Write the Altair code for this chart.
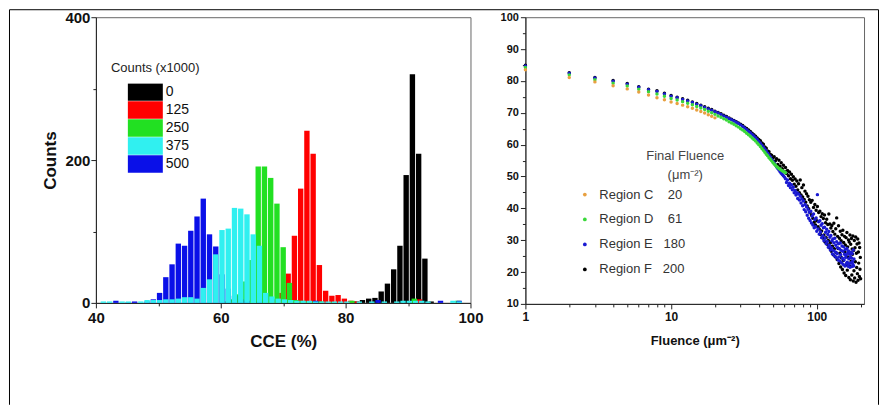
import altair as alt
import pandas as pd

# ---------------- Left panel: CCE histograms ----------------
dose_labels = ["0", "125", "250", "375", "500"]
dose_colors = ["#000000", "#ff0000", "#22e022", "#30f0f0", "#0a10e8"]

black_cce = [81.7, 82.7, 83.7, 84.7, 85.7, 86.7, 87.7, 88.7, 89.7, 90.7, 91.7, 92.7, 93.7]
black_counts = [2, 4, 6, 7, 16, 27, 47, 80, 179, 320, 209, 62, 2]

red_cce = [67.8, 68.8, 69.8, 70.8, 71.8, 72.8, 73.8, 74.8, 75.8, 76.8, 77.8, 78.8,
           79.8, 80.8, 81.8, 91.8]
red_counts = [2, 5, 14, 41, 94, 160, 241, 209, 53, 17, 10, 11, 6, 3, 2, 5]

green_cce = [61.0, 62.0, 63.0, 64.0, 65.0, 66.0, 67.0, 68.0, 69.0, 70.0, 71.0, 72.0,
             73.0, 74.0, 75.0, 76.0, 78.0, 81.0, 91.0, 98.0]
green_counts = [2, 5, 12, 30, 60, 191, 191, 175, 139, 78, 28, 4, 3, 2, 2, 2, 1, 3, 6, 3]

blue_cce = [43.2, 45.2, 46.2, 48.2, 49.2, 50.2, 51.2, 52.2, 53.2, 54.2, 55.2, 56.2,
            57.2, 58.2, 59.2, 60.2, 61.2, 62.2, 63.2, 64.2, 66.2, 75.2, 85.2, 95.2, 98.2]
blue_counts = [3, 1, 2, 2, 5, 14, 36, 54, 83, 80, 101, 121, 146, 96, 79, 40, 20, 10,
               5, 3, 2, 3, 4, 3, 3]

cyan_cce = [41.2, 42.2, 44.2, 45.2, 47.2, 48.2, 49.2, 50.2, 51.2, 52.2, 53.2, 54.2,
            55.2, 56.2, 57.2, 58.2, 59.2, 60.2, 61.2, 62.2, 63.2, 64.2, 65.2, 66.2,
            67.2, 68.2, 69.2, 70.2, 71.2, 72.2, 73.2, 74.2, 75.2, 76.2, 77.2, 78.2,
            79.2, 80.2, 82.2, 84.2, 86.2, 88.2, 89.2, 90.2, 91.2, 92.2, 93.2, 97.2, 98.2]
cyan_counts = [2, 2, 2, 2, 2, 4, 4, 4, 5, 5, 6, 8, 8, 6, 21, 33, 68, 102, 104, 133,
               132, 124, 96, 80, 14, 9, 6, 5, 4, 3, 3, 3, 2, 2, 2, 2, 2, 2, 2, 2, 2,
               2, 3, 3, 3, 3, 2, 3, 2]

draw_order = [
    ("0", black_cce, black_counts),
    ("125", red_cce, red_counts),
    ("250", green_cce, green_counts),
    ("500", blue_cce, blue_counts),
    ("375", cyan_cce, cyan_counts),
]
hist_rows = []
for dose, cces, counts in draw_order:
    for c, n in zip(cces, counts):
        hist_rows.append({"dose": dose, "cce": c, "count": n})
hist_df = pd.DataFrame(hist_rows)

# ---------------- Right panel: CCE vs fluence ----------------
region_names = ["Region C", "Region D", "Region E", "Region F"]
final_fluence = [20, 61, 180, 200]
region_colors = ["#e8a040", "#3ad83a", "#1a1ad2", "#000000"]

cce_C = [83.5, 81.1, 79.7, 78.5, 77.5, 76.5, 75.6, 74.7, 74.1, 73.4,
         72.9, 72.4, 71.9, 71.4, 70.9, 70.4, 69.9, 69.4, 68.9, 68.4]

cce_D = [84.2, 81.9, 80.4, 79.3, 78.4, 77.4, 76.6, 75.9, 75.2, 74.5,
         74.0, 73.5, 73.0, 72.5, 72.0, 71.5, 71.0, 70.5, 70.0, 69.5,
         69.0, 68.6, 68.1, 67.7, 67.2, 66.8, 66.4, 65.9, 65.5, 65.0,
         64.6, 64.1, 63.6, 63.1, 62.6, 62.1, 61.6, 61.1, 60.5, 60.0,
         59.4, 58.8, 58.2, 57.6, 57.0, 56.5, 55.9, 55.4, 54.9, 54.4,
         53.9, 53.5, 53.1, 52.8, 52.5, 52.3, 52.0, 51.8, 51.6, 51.4, 51.2]

cce_E = [84.7, 82.4, 80.9, 79.9, 79.0, 78.0, 77.2, 76.7, 75.9, 75.2,
         74.7, 74.2, 73.7, 73.2, 72.7, 72.2, 71.7, 71.2, 70.8, 70.3,
         69.9, 69.5, 69.0, 68.6, 68.2, 67.8, 67.4, 67.0, 66.6, 66.2,
         65.7, 65.2, 64.7, 64.2, 63.7, 63.2, 62.7, 62.2, 61.6, 61.0,
         60.4, 59.8, 59.2, 58.6, 58.0, 57.3, 56.7, 56.1, 55.4, 54.8,
         54.2, 53.6, 53.0, 52.5, 52.0, 51.5, 51.0, 50.6, 50.2, 49.8,
         49.3, 48.1, 48.9, 47.2, 47.9, 46.5, 47.4, 45.8, 46.6, 44.9,
         45.6, 44.2, 44.9, 43.1, 44.5, 42.6, 43.8, 41.7, 42.9, 40.8,
         42.3, 39.6, 41.2, 38.9, 40.5, 37.8, 39.7, 36.9, 38.8, 36.2,
         39.1, 35.4, 37.6, 34.8, 38.2, 33.9, 36.5, 34.2, 37.0, 32.8,
         44.3, 33.5, 35.8, 31.9, 36.1, 32.6, 34.7, 30.8, 35.2, 31.4,
         33.9, 29.8, 34.1, 30.6, 32.5, 28.9, 33.4, 29.6, 31.8, 27.8,
         32.7, 28.4, 30.9, 26.9, 31.5, 27.6, 29.8, 25.7, 30.4, 26.8,
         29.2, 25.1, 30.6, 26.3, 28.4, 24.6, 29.5, 25.8, 27.6, 23.8,
         28.9, 24.7, 27.3, 23.5, 29.1, 25.4, 26.8, 22.9, 28.2, 24.3,
         26.5, 22.4, 27.9, 23.8, 25.6, 21.9, 27.1, 24.6, 25.2, 22.7,
         27.4, 23.1, 25.9, 21.8, 26.6, 24.2, 22.6, 25.7, 21.5, 24.8,
         26.2, 22.9, 24.4, 21.7, 25.8, 23.3, 22.4, 26.9, 21.9, 24.1]

cce_F = [84.9, 82.6, 81.1, 80.1, 79.2, 78.2, 77.4, 76.9, 76.1, 75.4,
         74.9, 74.4, 73.9, 73.4, 72.9, 72.4, 71.9, 71.4, 71.0, 70.5,
         70.1, 69.7, 69.2, 68.8, 68.4, 68.0, 67.6, 67.2, 66.8, 66.4,
         66.0, 65.5, 65.1, 64.6, 64.1, 63.6, 63.1, 62.6, 62.1, 61.6,
         61.2, 60.5, 60.1, 59.3, 58.9, 58.0, 57.8, 56.9, 56.7, 55.8,
         56.2, 54.9, 55.6, 53.8, 55.1, 53.2, 54.3, 52.4, 53.5, 51.6,
         52.8, 50.9, 51.9, 50.2, 51.4, 49.3, 50.7, 48.8, 49.9, 47.6,
         49.2, 46.9, 48.6, 45.8, 47.7, 44.9, 48.9, 44.2, 46.5, 43.6,
         47.3, 42.8, 45.4, 41.9, 44.6, 40.7, 43.8, 39.9, 42.7, 38.6,
         41.9, 37.8, 42.5, 36.9, 40.3, 35.6, 41.2, 34.8, 39.4, 36.1,
         40.6, 34.2, 38.7, 33.5, 39.1, 31.8, 37.4, 32.9, 38.3, 30.7,
         36.8, 31.6, 37.9, 29.4, 35.5, 30.8, 36.6, 28.7, 34.9, 29.9,
         38.2, 27.6, 35.1, 29.2, 33.8, 26.5, 34.6, 28.1, 32.7, 25.4,
         35.3, 27.3, 31.9, 24.8, 33.6, 26.1, 37.0, 23.9, 31.2, 27.4,
         34.5, 22.7, 30.6, 25.9, 32.8, 21.6, 29.8, 24.5, 31.7, 20.8,
         33.1, 23.6, 29.3, 19.7, 31.2, 26.4, 28.5, 18.9, 30.8, 22.3,
         32.4, 20.6, 27.9, 24.7, 30.1, 18.3, 29.4, 21.9, 31.6, 17.6,
         28.7, 23.4, 30.5, 19.1, 27.2, 25.6, 31.3, 17.2, 26.8, 20.4,
         29.9, 18.1, 27.6, 23.2, 31.0, 16.8, 25.9, 21.4, 28.8, 19.5,
         30.4, 17.4, 26.3, 22.8, 29.1, 18.6, 27.7, 20.9, 24.6, 17.9]


def legend_label(name, ff):
    s = str(ff)
    gap = "\u00a0\u2007" if len(s) == 3 else "\u2007\u2007"
    return name + gap + s


region_labels = [legend_label(n, f) for n, f in zip(region_names, final_fluence)]

series = [(region_labels[3], cce_F), (region_labels[2], cce_E),
          (region_labels[1], cce_D), (region_labels[0], cce_C)]
sc_rows = []
for lab, vals in series:
    for i, v in enumerate(vals):
        sc_rows.append({"region": lab, "fluence": i + 1, "cce": v})
sc_df = pd.DataFrame(sc_rows)

FONT = "Liberation Sans"

# ---------------- Left chart ----------------
bars = alt.Chart(hist_df).transform_calculate(
    lo="datum.cce - 0.43", hi="datum.cce + 0.43", base="0"
).mark_bar().encode(
    x=alt.X("lo:Q", title="CCE (%)",
            scale=alt.Scale(domain=[40, 100], nice=False, zero=False),
            axis=alt.Axis(values=[40, 50, 60, 70, 80, 90, 100],
                          labelExpr="datum.value % 20 == 0 ? datum.label : ''",
                          tickSize={"condition": {"test": "datum.value % 20 == 0", "value": 5}, "value": 3},
                          labelFontSize=15, labelFontWeight="bold", labelPadding=3,
                          titleFontSize=17, titleFontWeight="bold", titlePadding=8,
                          labelFlush=False, grid=False)),
    x2="hi:Q",
    y=alt.Y("count:Q", title="Counts", stack=None,
            scale=alt.Scale(domain=[0, 400], nice=False),
            axis=alt.Axis(values=[0, 100, 200, 300, 400],
                          labelExpr="datum.value % 200 == 0 ? datum.label : ''",
                          tickSize={"condition": {"test": "datum.value % 200 == 0", "value": 5}, "value": 3},
                          labelFontSize=15, labelFontWeight="bold", labelPadding=1,
                          titleFontSize=17, titleFontWeight="bold", titlePadding=5,
                          grid=False)),
    y2="base:Q",
    color=alt.Color("dose:N",
                    scale=alt.Scale(domain=dose_labels, range=dose_colors),
                    legend=alt.Legend(title="Counts (x1000)", orient="none",
                                      legendX=15, legendY=45, padding=0,
                                      symbolType="M-1,-0.5H1V0.5H-1Z", symbolSize=1225,
                                      clipHeight=18, rowPadding=0, symbolStrokeWidth=0,
                                      symbolOffset=17, labelOffset=3,
                                      labelFontSize=14, titleFontSize=13,
                                      titleFontWeight="normal", titlePadding=8,
                                      labelColor="#111", titleColor="#222")),
).properties(width=375, height=286)

# outer picture frame (top, left and right edges)
frame_src = pd.DataFrame({"edge": ["frame"]})
frame_top = alt.Chart(frame_src).mark_rule(color="#000", strokeWidth=1).encode(
    x=alt.value(-86.5), x2=alt.value(783.5), y=alt.value(-7.5))
frame_left = alt.Chart(frame_src).mark_rule(color="#000", strokeWidth=1).encode(
    x=alt.value(-86.5), y=alt.value(-7.5), y2=alt.value(388))
frame_right = alt.Chart(frame_src).mark_rule(color="#000", strokeWidth=1).encode(
    x=alt.value(783.5), y=alt.value(-7.5), y2=alt.value(388))

left = alt.layer(bars, frame_top, frame_left, frame_right)

# ---------------- Right chart ----------------
log_ticks = [1, 2, 3, 4, 5, 6, 7, 8, 9, 10, 20, 30, 40, 50, 60, 70, 80, 90, 100, 200]
right = alt.Chart(sc_df).mark_circle(size=12, opacity=1).encode(
    x=alt.X("fluence:Q", title="Fluence (\u03bcm\u207b\u00b2)",
            scale=alt.Scale(type="log", domain=[1, 211], nice=False),
            axis=alt.Axis(values=log_ticks,
                          labelExpr="(datum.value == 1 || datum.value == 10 || datum.value == 100) ? format(datum.value, 'd') : ''",
                          tickSize={"condition": {"test": "datum.value == 1 || datum.value == 10 || datum.value == 100", "value": 5}, "value": 3},
                          labelFontSize=12, labelFontWeight="bold", labelPadding=3,
                          titleFontSize=13, titleFontWeight="bold", titlePadding=12,
                          labelFlush=False, grid=False)),
    y=alt.Y("cce:Q", title=None,
            scale=alt.Scale(domain=[10, 100], nice=False, zero=False),
            axis=alt.Axis(values=list(range(10, 101, 5)),
                          labelExpr="datum.value % 10 == 0 ? datum.label : ''",
                          tickSize={"condition": {"test": "datum.value % 10 == 0", "value": 5}, "value": 3},
                          labelFontSize=11, labelFontWeight="bold", labelPadding=2,
                          grid=False)),
    color=alt.Color("region:N",
                    scale=alt.Scale(domain=region_labels, range=region_colors),
                    legend=alt.Legend(title=["Final Fluence", "(\u03bcm\u207b\u00b2)"],
                                      orient="none", legendX=53, legendY=133, padding=0,
                                      titleAnchor="end", titleAlign="center",
                                      titleFontSize=13, titleFontWeight="normal",
                                      titleLineHeight=19, titlePadding=6,
                                      symbolType="circle", symbolSize=14,
                                      symbolStrokeWidth=0, rowPadding=11,
                                      labelFontSize=13, labelOffset=8,
                                      labelColor="#333", titleColor="#444")),
).properties(width=339, height=287)

chart = alt.hconcat(left, right, spacing=55, bounds="flush").resolve_scale(color="independent").properties(
    padding={"left": 0, "top": 0, "right": 0, "bottom": 0}
).configure(font=FONT).configure_view(
    stroke="#666", strokeWidth=1
).configure_axis(
    domainColor="#222", tickColor="#222", labelColor="#111", titleColor="#111"
)

chart.save("out.html", embed_options={"renderer": "svg", "actions": False})
